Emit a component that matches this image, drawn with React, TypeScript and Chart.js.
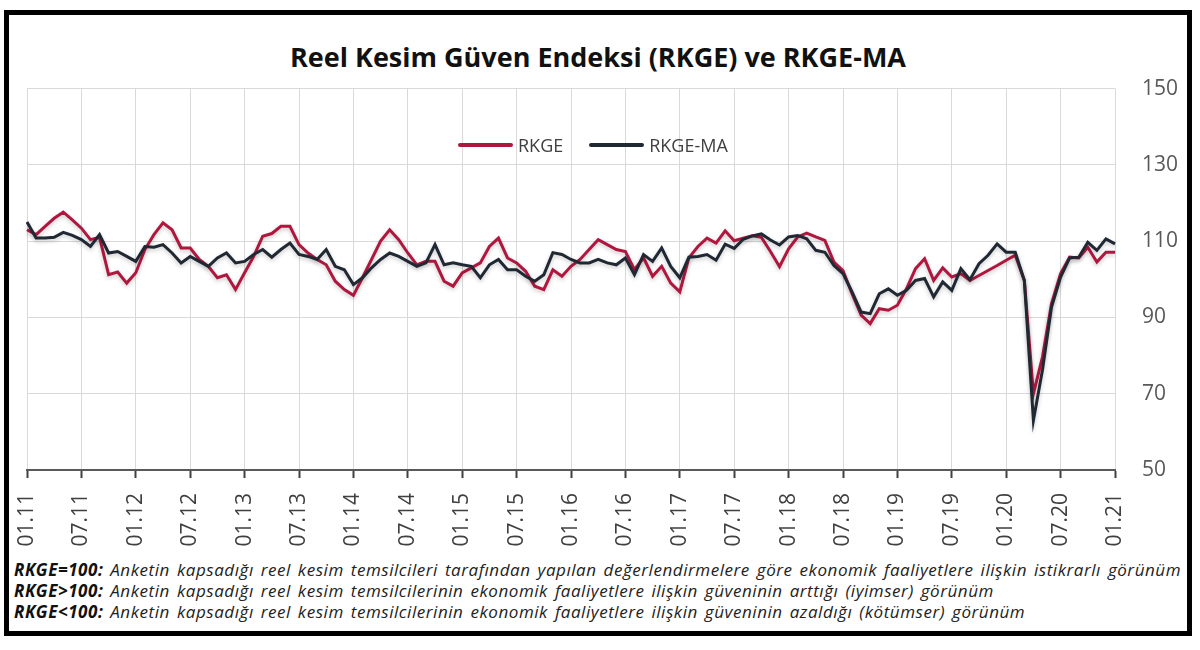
import { useEffect, useRef } from "react";
import { Chart, registerables } from "chart.js";

Chart.register(...registerables);

// tick labels shown every 6 months
const TICK_LABELS = [
  "01.11", "07.11", "01.12", "07.12", "01.13", "07.13", "01.14", "07.14",
  "01.15", "07.15", "01.16", "07.16", "01.17", "07.17", "01.18", "07.18",
  "01.19", "07.19", "01.20", "07.20", "01.21",
];

// monthly categories 01.11 .. 01.21
const MONTHS: string[] = [];
for (let y = 11; y <= 21; y++) {
  for (let m = 1; m <= 12; m++) {
    if (y === 21 && m > 1) break;
    MONTHS.push(`${String(m).padStart(2, "0")}.${y}`);
  }
}

const RKGE = [
  113, 111.7, 113.9, 116, 117.6, 115.6, 113.4, 110.4, 111, 101.2, 101.9, 99.0,
  101.7, 107.8, 111.7, 114.8, 113, 108.2, 108.2, 105.2, 103.4, 100.4, 101.2, 97.3,
  101.7, 106, 111.3, 112, 113.9, 113.9, 109.1, 106.9, 105.2, 103.8, 99.5, 97.3,
  95.8, 100.4, 105.2, 110, 113, 110.4, 106.9, 103.8, 104.7, 104.7, 99.5, 98.2,
  101.7, 103, 104.3, 108.6, 110.8, 105.6, 104.3, 102.1, 98.2, 97.3, 102.5, 100.8,
  103.4, 105.2, 107.8, 110.4, 109.1, 107.8, 107.3, 102.5, 105.6, 100.8, 103.4, 99.0,
  96.7, 105.6, 108.6, 110.8, 109.5, 112.7, 110.1, 110.8, 111.4, 111, 107.3, 103.3,
  108, 111.1, 112.1, 111.1, 110.2, 104.5, 102.3, 96.2, 90.6, 88.4, 92.3, 91.9,
  93.2, 97.5, 102.8, 105.4, 99.7, 103, 100.6, 101.5, 99.7, 101, 102.3, 103.6,
  105, 106.3, 99.7, 70, 79.6, 93.6, 101.5, 105.8, 105.6, 108.4, 104.5, 107.1,
  107.1,
];

const RKGE_MA = [
  115, 110.8, 110.8, 111, 112.3, 111.5, 110.4, 108.6, 111.7, 106.9, 107.3, 106,
  104.7, 108.6, 108.4, 109.1, 106.9, 104.3, 106, 104.7, 103.4, 105.6, 106.9, 104.3,
  104.7, 106.5, 107.8, 105.8, 107.8, 109.5, 106.5, 106, 105.2, 107.8, 103.4, 102.5,
  98.6, 100.4, 103, 105.2, 106.9, 106, 104.7, 103.4, 104.3, 109.1, 103.8, 104.3,
  103.8, 103.4, 100.4, 103.8, 105.2, 102.5, 102.5, 100.8, 99.5, 101.2, 107, 106.5,
  105.2, 104.3, 104.3, 105.2, 104.3, 103.8, 105.6, 101.2, 106.5, 104.7, 108.2, 103.4,
  100.4, 105.8, 106, 106.5, 105, 109.2, 108.1, 110.5, 111.4, 111.9, 110.3, 109,
  111.1, 111.5, 110.6, 107.6, 107.1, 103.6, 101.5, 96.7, 91.4, 91, 96.2, 97.5,
  95.8, 97.1, 99.7, 100.2, 95.4, 99.3, 97.1, 102.8, 99.9, 104.1, 106.3, 109.3,
  107.1, 107.1, 99.7, 63, 76.2, 92.7, 100.6, 105.6, 105.8, 109.7, 107.6, 110.6,
  109.3,
];

const RED = "#b0173f";
const DARK = "#1f2833";

// soft shadow under the lines, like the original
const shadowPlugin = {
  id: "lineShadow",
  beforeDatasetsDraw(chart: Chart) {
    const ctx = chart.ctx;
    ctx.save();
    ctx.shadowColor = "rgba(0,0,0,0.22)";
    ctx.shadowBlur = 4;
    ctx.shadowOffsetY = 2;
  },
  afterDatasetsDraw(chart: Chart) {
    chart.ctx.restore();
  },
};

function RkgeChart() {
  const canvasRef = useRef<HTMLCanvasElement>(null);
  const chartRef = useRef<Chart | null>(null);

  useEffect(() => {
    if (!canvasRef.current) return;
    const ctx = canvasRef.current.getContext("2d");
    if (!ctx) return;
    if (chartRef.current) chartRef.current.destroy();

    chartRef.current = new Chart(ctx, {
      type: "line",
      data: {
        labels: MONTHS,
        datasets: [
          {
            label: "RKGE",
            data: RKGE,
            borderColor: RED,
            borderWidth: 3,
            pointRadius: 0,
            tension: 0,
            order: 2,
          },
          {
            label: "RKGE-MA",
            data: RKGE_MA,
            borderColor: DARK,
            borderWidth: 3,
            pointRadius: 0,
            tension: 0,
            order: 1,
          },
        ],
      },
      options: {
        animation: false,
        responsive: true,
        maintainAspectRatio: false,
        layout: { padding: { left: 15, top: 17, right: 0, bottom: 0 } },
        plugins: {
          legend: { display: false },
          tooltip: { enabled: false },
        },
        scales: {
          x: {
            afterFit: (scale: any) => {
              scale.height = 80;
            },
            grid: {
              color: "#d9d9d9",
              lineWidth: 1,
              tickLength: 8,
              tickColor: "#404040",
              tickWidth: 2,
            },
            border: { color: "#595959", width: 2 },
            ticks: {
              autoSkip: false,
              minRotation: 90,
              maxRotation: 90,
              padding: 15,
              color: "#404040",
              font: { family: "'Open Sans'", size: 21 },
              callback: (_v: any, i: number) =>
                i % 6 === 0 ? TICK_LABELS[i / 6] : null,
            },
          },
          y: {
            position: "right",
            min: 50,
            max: 150,
            afterFit: (scale: any) => {
              scale.width = 67;
            },
            grid: { color: "#d9d9d9", lineWidth: 1, drawTicks: false },
            border: { display: false },
            ticks: {
              stepSize: 20,
              padding: 27,
              color: "#595959",
              font: { family: "'Open Sans'", size: 21 },
            },
          },
        },
      },
      plugins: [shadowPlugin],
    });

    return () => {
      if (chartRef.current) {
        chartRef.current.destroy();
        chartRef.current = null;
      }
    };
  }, []);

  return (
    <div style={{ position: "absolute", left: 12, top: 49, width: 1170, height: 501 }}>
      <canvas ref={canvasRef} />
    </div>
  );
}

function LegendItem({ color, text }: { color: string; text: string }) {
  return (
    <span style={{ display: "inline-flex", alignItems: "center", marginRight: 26 }}>
      <span
        style={{
          display: "inline-block",
          width: 55,
          height: 4,
          background: color,
          borderRadius: 2,
          marginRight: 5,
        }}
      />
      <span>{text}</span>
    </span>
  );
}

const noteBold: React.CSSProperties = { fontWeight: 700, color: "#111" };

export default function App() {
  return (
    <div
      style={{
        position: "fixed",
        inset: 0,
        background: "#fff",
        fontFamily: "'Open Sans', sans-serif",
      }}
    >
      <div
        style={{
          position: "absolute",
          left: 4,
          top: 10,
          width: 1188,
          height: 626,
          border: "5px solid #000",
          boxSizing: "border-box",
        }}
      />
      <div
        style={{
          position: "absolute",
          left: 0,
          width: 1196,
          top: 38,
          textAlign: "center",
          fontSize: 27,
          fontWeight: 700,
          color: "#111",
        }}
      >
        Reel Kesim Güven Endeksi (RKGE) ve RKGE-MA
      </div>
      <RkgeChart />
      <div
        style={{
          position: "absolute",
          left: 458,
          top: 128,
          fontSize: 18,
          color: "#404040",
          lineHeight: "24px",
          whiteSpace: "nowrap",
        }}
      >
        <LegendItem color={RED} text="RKGE" />
        <LegendItem color={DARK} text="RKGE-MA" />
      </div>
      <div
        style={{
          position: "absolute",
          left: 14,
          top: 559,
          fontSize: 17,
          lineHeight: "21px",
          fontStyle: "italic",
          color: "#222",
          whiteSpace: "nowrap",
          wordSpacing: 2,
          letterSpacing: 0.55,
        }}
      >
        <div>
          <span style={noteBold}>RKGE=100:</span> Anketin kapsadığı reel kesim temsilcileri tarafından yapılan değerlendirmelere göre ekonomik faaliyetlere ilişkin istikrarlı görünüm
        </div>
        <div>
          <span style={noteBold}>RKGE&gt;100:</span> Anketin kapsadığı reel kesim temsilcilerinin ekonomik faaliyetlere ilişkin güveninin arttığı (iyimser) görünüm
        </div>
        <div>
          <span style={noteBold}>RKGE&lt;100:</span> Anketin kapsadığı reel kesim temsilcilerinin ekonomik faaliyetlere ilişkin güveninin azaldığı (kötümser) görünüm
        </div>
      </div>
    </div>
  );
}
